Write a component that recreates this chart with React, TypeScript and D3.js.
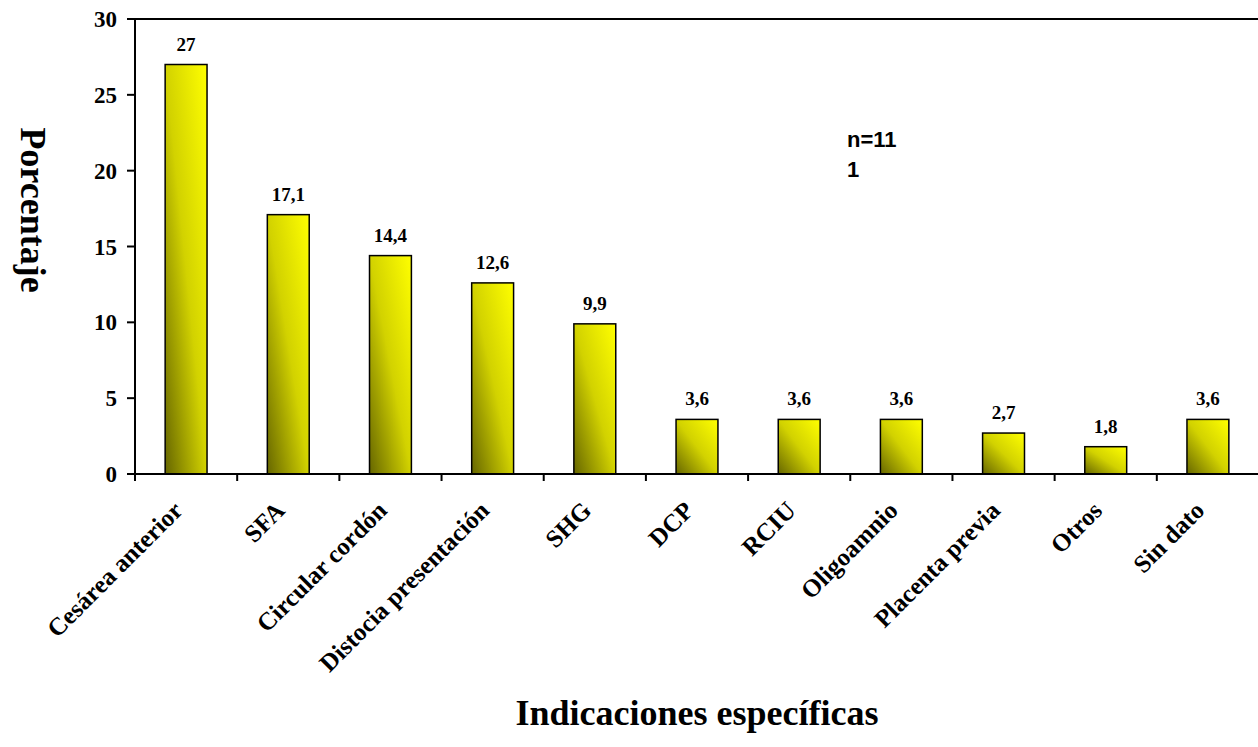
import React from "react";
import * as d3 from "d3";

const categories = [
  "Cesárea anterior",
  "SFA",
  "Circular cordón",
  "Distocia presentación",
  "SHG",
  "DCP",
  "RCIU",
  "Oligoamnio",
  "Placenta previa",
  "Otros",
  "Sin dato",
];
const values = [27, 17.1, 14.4, 12.6, 9.9, 3.6, 3.6, 3.6, 2.7, 1.8, 3.6];
const valueLabels = ["27", "17,1", "14,4", "12,6", "9,9", "3,6", "3,6", "3,6", "2,7", "1,8", "3,6"];
const yTicks = [0, 5, 10, 15, 20, 25, 30];
const noteLines = ["n=11", "1"];

const W = 1258;
const H = 747;
const left = 135;
const right = 1259;
const top = 19;
const bottom = 474;

const serif = "'Liberation Serif', 'Times New Roman', serif";
const sans = "'Liberation Sans', Arial, sans-serif";

export default function App() {
  const x = d3
    .scaleBand<string>()
    .domain(categories)
    .range([left, right])
    .paddingInner(0.59)
    .paddingOuter(0.295);
  const y = d3.scaleLinear().domain([0, 30]).range([bottom, top]);
  const step = x.step();

  return (
    <svg
      width={W}
      height={H}
      style={{ position: "absolute", left: 0, top: 0, background: "#fff" }}
    >
      <defs>
        <linearGradient id="barFill" x1="0" y1="1" x2="1" y2="0">
          <stop offset="0" stopColor="#666600" />
          <stop offset="0.5" stopColor="#d2d200" />
          <stop offset="1" stopColor="#ffff00" />
        </linearGradient>
      </defs>

      {/* plot frame: top border */}
      <line x1={left} x2={W} y1={top} y2={top} stroke="#000" strokeWidth={2} />

      {/* bars */}
      {categories.map((c, i) => (
        <rect
          key={c}
          x={x(c)!}
          y={y(values[i])}
          width={x.bandwidth()}
          height={bottom - y(values[i])}
          fill="url(#barFill)"
          stroke="#000"
          strokeWidth={1.5}
        />
      ))}

      {/* value labels */}
      {categories.map((c, i) => (
        <text
          key={c}
          x={x(c)! + x.bandwidth() / 2}
          y={y(values[i]) - 14}
          textAnchor="middle"
          fontFamily={serif}
          fontWeight="bold"
          fontSize={19}
        >
          {valueLabels[i]}
        </text>
      ))}

      {/* y axis */}
      <line x1={left} x2={left} y1={top} y2={bottom} stroke="#000" strokeWidth={2} />
      {yTicks.map((t) => (
        <g key={t}>
          <line x1={left - 8} x2={left} y1={y(t)} y2={y(t)} stroke="#000" strokeWidth={2} />
          <text
            x={117}
            y={y(t)}
            dy="0.35em"
            textAnchor="end"
            fontFamily={serif}
            fontWeight="bold"
            fontSize={23}
          >
            {t}
          </text>
        </g>
      ))}

      {/* x axis */}
      <line x1={left} x2={W} y1={bottom} y2={bottom} stroke="#000" strokeWidth={2} />
      {d3.range(categories.length + 1).map((k) => (
        <line
          key={k}
          x1={left + k * step}
          x2={left + k * step}
          y1={bottom}
          y2={bottom + 7}
          stroke="#000"
          strokeWidth={2}
        />
      ))}
      {categories.map((c) => {
        const cx = x(c)! + x.bandwidth() / 2 - 2;
        const cy = 512;
        return (
          <text
            key={c}
            transform={`translate(${cx},${cy}) rotate(-45)`}
            textAnchor="end"
            fontFamily={serif}
            fontWeight="bold"
            fontSize={25}
          >
            {c}
          </text>
        );
      })}

      {/* axis titles */}
      <text
        transform="translate(21,210) rotate(90)"
        textAnchor="middle"
        fontFamily={serif}
        fontWeight="bold"
        fontSize={36}
      >
        Porcentaje
      </text>
      <text
        x={697}
        y={725}
        textAnchor="middle"
        fontFamily={serif}
        fontWeight="bold"
        fontSize={36}
      >
        Indicaciones específicas
      </text>

      {/* sample size note */}
      {noteLines.map((t, i) => (
        <text
          key={i}
          x={847}
          y={147 + i * 30}
          fontFamily={sans}
          fontWeight="bold"
          fontSize={22}
        >
          {t}
        </text>
      ))}
    </svg>
  );
}
